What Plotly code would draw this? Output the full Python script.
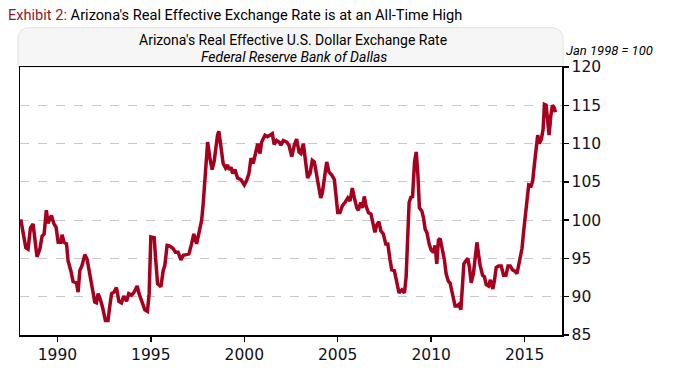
import plotly.graph_objects as go

# Decimal year of each reading, and the index value (Jan 1998 = 100)
years = [
    1988.04, 1988.16, 1988.31, 1988.43, 1988.56, 1988.70, 1988.79, 1988.91,
    1989.06, 1989.18, 1989.29, 1989.41, 1989.50, 1989.57, 1989.68, 1989.82, 1989.93,
    1990.04, 1990.18, 1990.25, 1990.36, 1990.49, 1990.57, 1990.72, 1990.84,
    1991.02, 1991.11, 1991.20, 1991.32, 1991.47, 1991.59, 1991.73, 1991.88,
    1992.00, 1992.09, 1992.18, 1992.28, 1992.41, 1992.57, 1992.71, 1992.80, 1992.90,
    1993.03, 1993.16, 1993.29, 1993.43, 1993.55, 1993.70, 1993.82, 1993.97,
    1994.11, 1994.27, 1994.37, 1994.53, 1994.68, 1994.82, 1994.91,
    1995.00, 1995.18, 1995.25, 1995.36, 1995.54, 1995.66, 1995.75, 1995.87,
    1996.02, 1996.19, 1996.32, 1996.46, 1996.61, 1996.73, 1996.91,
    1997.04, 1997.18, 1997.30, 1997.45, 1997.57, 1997.72, 1997.80, 1997.89,
    1998.04, 1998.16, 1998.28, 1998.39, 1998.48, 1998.57, 1998.64, 1998.75, 1998.87,
    1999.00, 1999.11, 1999.19, 1999.29, 1999.38, 1999.50, 1999.64, 1999.82,
    2000.00, 2000.13, 2000.25, 2000.36, 2000.48, 2000.61, 2000.72, 2000.84, 2000.93,
    2001.11, 2001.25, 2001.37, 2001.50, 2001.60, 2001.73, 2001.86, 2001.96,
    2002.09, 2002.27, 2002.39, 2002.54, 2002.68, 2002.80, 2002.93,
    2003.03, 2003.16, 2003.25, 2003.39, 2003.52, 2003.64, 2003.75, 2003.88,
    2004.00, 2004.09, 2004.18, 2004.28, 2004.41, 2004.53, 2004.68, 2004.82, 2004.89,
    2005.00, 2005.12, 2005.25, 2005.39, 2005.54, 2005.66, 2005.78, 2005.89,
    2006.02, 2006.10, 2006.23, 2006.32, 2006.42, 2006.51, 2006.64, 2006.78, 2006.90, 2006.99,
    2007.08, 2007.20, 2007.31, 2007.44, 2007.57, 2007.68, 2007.80, 2007.89,
    2008.03, 2008.16, 2008.28, 2008.43, 2008.57, 2008.66, 2008.75, 2008.82, 2008.93,
    2009.00, 2009.11, 2009.20, 2009.29, 2009.37, 2009.50, 2009.59, 2009.68, 2009.77, 2009.89,
    2010.00, 2010.12, 2010.21, 2010.30, 2010.39, 2010.48, 2010.60, 2010.71, 2010.80, 2010.92,
    2011.01, 2011.10, 2011.19, 2011.28, 2011.40, 2011.49, 2011.59, 2011.67, 2011.75, 2011.86, 2011.96,
    2012.05, 2012.14, 2012.26, 2012.35, 2012.45, 2012.53, 2012.62, 2012.75, 2012.85, 2012.94,
    2013.07, 2013.17, 2013.30, 2013.39, 2013.48, 2013.60, 2013.75, 2013.87,
    2014.00, 2014.11, 2014.23, 2014.36, 2014.50, 2014.59, 2014.68, 2014.77, 2014.86, 2014.95,
    2015.04, 2015.13, 2015.22, 2015.35, 2015.43, 2015.52, 2015.61, 2015.70, 2015.79, 2015.90, 2015.99,
    2016.06, 2016.15, 2016.22, 2016.31, 2016.40, 2016.49, 2016.58, 2016.65,
]
values = [
    100.1, 98.6, 96.4, 96.2, 99.0, 99.5, 97.4, 95.2,
    96.2, 97.9, 98.2, 101.3, 99.6, 100.0, 100.6, 99.5, 99.1,
    97.1, 97.1, 98.1, 97.1, 96.9, 94.7, 93.4, 92.0,
    91.8, 90.6, 93.4, 94.1, 95.5, 94.9, 93.0, 91.1,
    89.3, 89.2, 90.4, 89.8, 88.7, 86.9, 86.9, 88.7, 90.4,
    90.6, 91.2, 89.4, 89.2, 90.1, 89.4, 90.4, 90.2,
    90.6, 91.4, 90.4, 89.4, 88.3, 88.1, 90.4,
    97.8, 97.7, 95.2, 91.7, 91.3, 93.4, 94.1, 96.7,
    96.6, 96.3, 95.8, 95.8, 94.8, 95.4, 95.5,
    95.6, 96.9, 98.2, 96.9, 98.2, 100.0, 102.1, 105.1,
    110.2, 108.1, 106.6, 107.7, 109.8, 111.1, 111.6, 109.8, 107.4,
    106.8, 107.2, 106.6, 106.9, 106.1, 106.6, 105.5, 105.3,
    104.6, 105.2, 106.1, 108.1, 107.4, 108.9, 110.0, 108.7, 110.2,
    111.1, 110.9, 111.1, 111.3, 109.9, 110.4, 110.2, 109.8,
    110.4, 110.2, 109.8, 108.3, 109.8, 110.6, 108.9,
    108.7, 110.0, 108.5, 105.5, 106.1, 107.8, 107.6, 105.7,
    104.0, 102.9, 103.6, 105.3, 107.6, 106.3, 105.9, 105.3, 103.6,
    101.0, 101.0, 101.9, 102.3, 102.9, 102.5, 104.2, 102.9,
    101.6, 101.3, 102.3, 101.6, 103.1, 101.9, 101.0, 100.8, 99.5, 98.4,
    99.3, 99.8, 98.6, 98.2, 96.9, 96.9, 94.8, 93.5,
    93.4, 92.0, 90.5, 90.9, 90.5, 92.6, 98.6, 102.3, 103.1,
    102.9, 107.6, 108.9, 105.9, 101.6, 101.2, 100.3, 98.8, 98.4, 96.9,
    96.1, 95.8, 96.7, 94.3, 97.4, 97.6, 96.1, 94.8, 93.0, 92.0,
    91.8, 90.7, 90.1, 88.8, 88.8, 89.0, 88.3, 90.9, 94.3, 94.7, 95.0,
    93.8, 91.8, 93.0, 94.8, 97.1, 95.6, 94.1, 92.8, 92.6, 91.6,
    91.4, 92.2, 91.0, 92.2, 93.8, 94.0, 94.0, 92.8,
    92.8, 94.0, 94.0, 93.5, 93.3, 93.0, 94.0, 95.3, 96.3, 98.6,
    100.8, 102.9, 104.6, 104.5, 105.1, 107.2, 109.8, 111.1, 110.0, 110.6, 111.9,
    115.1, 115.0, 112.8, 111.1, 113.6, 115.0, 114.7, 114.1,
]

x_ticks = [1990, 1995, 2000, 2005, 2010, 2015]
x_labels = ["1990", "1995", "2000", "2005", "2010", "2015"]
y_ticks = [85, 90, 95, 100, 105, 110, 115, 120]

RED = "#a5001e"
TITLE_FONT = "Liberation Sans Narrow, Roboto, Liberation Sans, sans-serif"

# page pixel geometry of the plot area (body margin removed, figure at 0,0)
W, H = 673, 376
PL, PR, PT, PB = 20, 562, 67, 340
PW, PH = PR - PL, PB - PT


def px(xp):
    return (xp - PL) / PW


def py(yp):
    return (PB - yp) / PH


fig = go.Figure()
fig.add_trace(go.Scatter(
    x=years, y=values, mode="lines",
    line=dict(color=RED, width=3.5),
    hoverinfo="skip", showlegend=False,
))

fig.update_layout(
    width=W, height=H,
    margin=dict(l=PL, r=W - PR, t=PT, b=H - PB),
    paper_bgcolor="white", plot_bgcolor="white",
    xaxis=dict(
        range=[1988.0, 2017.0],
        tickvals=x_ticks, ticktext=x_labels,
        showgrid=False, zeroline=False,
        showline=True, linecolor="black", linewidth=1.5, mirror=True,
        ticks="outside", ticklen=5, tickwidth=1.5, tickcolor="black",
        tickfont=dict(family="DejaVu Sans", size=15.5, color="#111122"),
    ),
    yaxis=dict(
        range=[85, 120], side="right",
        tickvals=y_ticks,
        showgrid=True, gridcolor="#c8c8c8", griddash="dash", gridwidth=1,
        zeroline=False,
        showline=True, linecolor="black", linewidth=1.5, mirror=True,
        ticks="outside", ticklen=5, tickwidth=1.5, tickcolor="black",
        tickfont=dict(family="DejaVu Sans", size=15.5, color="#111122"),
    ),
)

# Header box with rounded top corners
rx = 12 / PW
ry = 12 / PH
x0, x1 = px(18), px(563)
y0, y1 = 1.0, py(27)
path = (f"M {x0} {y0} L {x0} {y1 - ry} Q {x0} {y1} {x0 + rx} {y1} "
        f"L {x1 - rx} {y1} Q {x1} {y1} {x1} {y1 - ry} L {x1} {y0} Z")
fig.add_shape(type="path", path=path, xref="paper", yref="paper",
              fillcolor="#f6f6f6", line=dict(color="#e2e2e2", width=1), layer="below")

fig.add_annotation(
    text="<span style='color:#8b1a2b'>Exhibit 2:</span> Arizona's Real Effective Exchange Rate is at an All-Time High",
    xref="paper", yref="paper", x=px(6), y=py(14),
    xanchor="left", yanchor="middle", showarrow=False,
    font=dict(family=TITLE_FONT, size=14.6, color="black"),
)
fig.add_annotation(
    text="Arizona's Real Effective U.S. Dollar Exchange Rate",
    xref="paper", yref="paper", x=px(293), y=py(40),
    xanchor="center", yanchor="middle", showarrow=False,
    font=dict(family=TITLE_FONT, size=14, color="black"),
)
fig.add_annotation(
    text="<i>Federal Reserve Bank of Dallas</i>",
    xref="paper", yref="paper", x=px(294), y=py(57),
    xanchor="center", yanchor="middle", showarrow=False,
    font=dict(family=TITLE_FONT, size=14, color="black"),
)
fig.add_annotation(
    text="<i>Jan 1998 = 100</i>",
    xref="paper", yref="paper", x=px(564), y=py(50),
    xanchor="left", yanchor="middle", showarrow=False,
    font=dict(family=TITLE_FONT, size=13, color="black"),
)

fig.write_html(
    "out.html",
    config={"displayModeBar": False, "staticPlot": True},
    post_script="document.body.style.margin='0';document.body.style.overflow='hidden';",
)
